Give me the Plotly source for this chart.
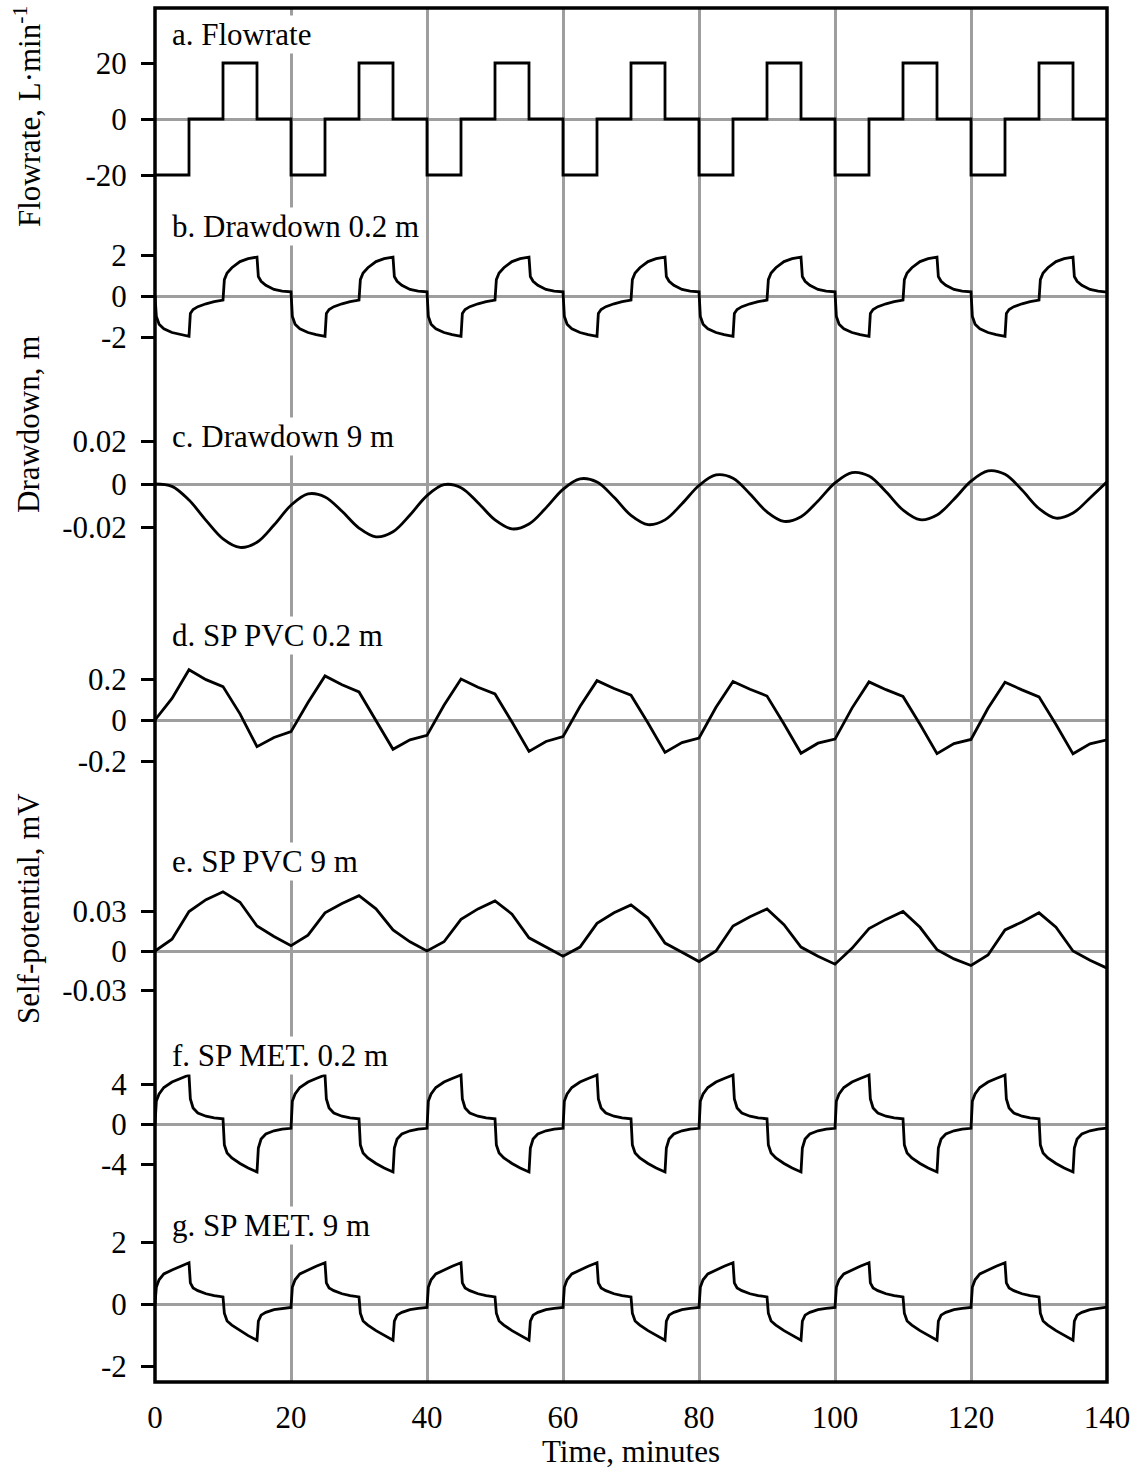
import plotly.graph_objects as go

# ---------------- data ----------------
# a. Flowrate (step function, L/min)
flow_time = [0, 5, 10, 15, 20, 25, 30, 35, 40, 45, 50, 55, 60, 65, 70, 75, 80,
             85, 90, 95, 100, 105, 110, 115, 120, 125, 130, 135, 140]
flowrate = [-20, 0, 20, 0, -20, 0, 20, 0, -20, 0, 20, 0, -20, 0, 20, 0, -20,
            0, 20, 0, -20, 0, 20, 0, -20, 0, 20, 0, 0]

# sampling offsets inside one 20-min cycle for the step-response records
cycle_offsets = [0, 0.2, 0.6, 1.3, 2.5, 3.7,
                 5, 5.2, 5.6, 6.3, 7.5, 8.7,
                 10, 10.2, 10.6, 11.3, 12.5, 13.7,
                 15, 15.2, 15.6, 16.3, 17.5, 18.7]
step_time = [20 * c + o for c in range(7) for o in cycle_offsets] + [140]

# b. Drawdown 0.2 m (m)
drawdown_02 = [
    0.00, -1.00, -1.38, -1.60, -1.78, -1.88, -1.97, -0.85, -0.66, -0.52, -0.38, -0.28,
    -0.20, 0.80, 1.12, 1.38, 1.68, 1.82, 1.90, 0.95, 0.72, 0.52, 0.32, 0.24,
    0.20, -1.00, -1.38, -1.60, -1.78, -1.88, -1.97, -0.85, -0.66, -0.52, -0.38, -0.28,
    -0.20, 0.80, 1.12, 1.38, 1.68, 1.82, 1.90, 0.95, 0.72, 0.52, 0.32, 0.24,
    0.20, -1.00, -1.38, -1.60, -1.78, -1.88, -1.97, -0.85, -0.66, -0.52, -0.38, -0.28,
    -0.20, 0.80, 1.12, 1.38, 1.68, 1.82, 1.90, 0.95, 0.72, 0.52, 0.32, 0.24,
    0.20, -1.00, -1.38, -1.60, -1.78, -1.88, -1.97, -0.85, -0.66, -0.52, -0.38, -0.28,
    -0.20, 0.80, 1.12, 1.38, 1.68, 1.82, 1.90, 0.95, 0.72, 0.52, 0.32, 0.24,
    0.20, -1.00, -1.38, -1.60, -1.78, -1.88, -1.97, -0.85, -0.66, -0.52, -0.38, -0.28,
    -0.20, 0.80, 1.12, 1.38, 1.68, 1.82, 1.90, 0.95, 0.72, 0.52, 0.32, 0.24,
    0.20, -1.00, -1.38, -1.60, -1.78, -1.88, -1.97, -0.85, -0.66, -0.52, -0.38, -0.28,
    -0.20, 0.80, 1.12, 1.38, 1.68, 1.82, 1.90, 0.95, 0.72, 0.52, 0.32, 0.24,
    0.20, -1.00, -1.38, -1.60, -1.78, -1.88, -1.97, -0.85, -0.66, -0.52, -0.38, -0.28,
    -0.20, 0.80, 1.12, 1.38, 1.68, 1.82, 1.90, 0.95, 0.72, 0.52, 0.32, 0.24,
    0.19,
]

# c. Drawdown 9 m (m), every 2.5 min
grid_time = [2.5 * i for i in range(57)]
drawdown_9 = [
    0.0, -0.0011, -0.0075, -0.0169, -0.0255, -0.0295, -0.0271, -0.0191,
    -0.0099, -0.0046, -0.0060, -0.0127, -0.0205, -0.0246, -0.0222, -0.0144,
    -0.0054, -0.0003, -0.0017, -0.0087, -0.0167, -0.0209, -0.0186, -0.0111,
    -0.0025, 0.0024, 0.0009, -0.0062, -0.0146, -0.0189, -0.0167, -0.0092,
    -0.0007, 0.0042, 0.0027, -0.0046, -0.0130, -0.0174, -0.0152, -0.0079,
    0.0005, 0.0053, 0.0037, -0.0036, -0.0121, -0.0166, -0.0144, -0.0071,
    0.0013, 0.0061, 0.0045, -0.0028, -0.0114, -0.0159, -0.0135, -0.0065,
    0.0010,
]

# d. SP PVC 0.2 m (mV), every 2.5 min
sp_pvc_02 = [
    0.000, 0.105, 0.245, 0.197, 0.163, 0.030, -0.130, -0.085,
    -0.057, 0.085, 0.215, 0.172, 0.137, 0.000, -0.143, -0.097,
    -0.075, 0.072, 0.200, 0.160, 0.127, -0.010, -0.153, -0.105,
    -0.081, 0.066, 0.192, 0.154, 0.121, -0.015, -0.158, -0.110,
    -0.088, 0.062, 0.188, 0.150, 0.117, -0.019, -0.162, -0.113,
    -0.093, 0.058, 0.186, 0.148, 0.115, -0.021, -0.164, -0.115,
    -0.095, 0.057, 0.184, 0.147, 0.113, -0.022, -0.165, -0.116,
    -0.097,
]

# e. SP PVC 9 m (mV), every 2.5 min
sp_pvc_9 = [
    0.000, 0.009, 0.030, 0.039, 0.045, 0.037, 0.019, 0.011,
    0.004, 0.012, 0.029, 0.036, 0.042, 0.032, 0.016, 0.007,
    0.000, 0.007, 0.024, 0.032, 0.038, 0.028, 0.010, 0.003,
    -0.004, 0.003, 0.021, 0.029, 0.035, 0.025, 0.006, -0.001,
    -0.008, 0.000, 0.019, 0.026, 0.032, 0.020, 0.003, -0.004,
    -0.010, 0.002, 0.017, 0.024, 0.030, 0.018, 0.001, -0.006,
    -0.011, -0.003, 0.016, 0.022, 0.029, 0.018, 0.000, -0.007,
    -0.013,
]

# f. SP MET. 0.2 m (mV)
sp_met_02 = [
    0.00, 2.30, 3.00, 3.65, 4.20, 4.55, 4.90, 2.50, 1.60, 1.10, 0.78, 0.62,
    0.52, -2.10, -2.90, -3.40, -3.95, -4.40, -4.80, -2.40, -1.50, -1.00, -0.68, -0.52,
    -0.43, 2.30, 3.00, 3.65, 4.20, 4.55, 4.90, 2.50, 1.60, 1.10, 0.78, 0.62,
    0.52, -2.10, -2.90, -3.40, -3.95, -4.40, -4.80, -2.40, -1.50, -1.00, -0.68, -0.52,
    -0.43, 2.30, 3.00, 3.65, 4.20, 4.55, 4.90, 2.50, 1.60, 1.10, 0.78, 0.62,
    0.52, -2.10, -2.90, -3.40, -3.95, -4.40, -4.80, -2.40, -1.50, -1.00, -0.68, -0.52,
    -0.43, 2.30, 3.00, 3.65, 4.20, 4.55, 4.90, 2.50, 1.60, 1.10, 0.78, 0.62,
    0.52, -2.10, -2.90, -3.40, -3.95, -4.40, -4.80, -2.40, -1.50, -1.00, -0.68, -0.52,
    -0.43, 2.30, 3.00, 3.65, 4.20, 4.55, 4.90, 2.50, 1.60, 1.10, 0.78, 0.62,
    0.52, -2.10, -2.90, -3.40, -3.95, -4.40, -4.80, -2.40, -1.50, -1.00, -0.68, -0.52,
    -0.43, 2.30, 3.00, 3.65, 4.20, 4.55, 4.90, 2.50, 1.60, 1.10, 0.78, 0.62,
    0.52, -2.10, -2.90, -3.40, -3.95, -4.40, -4.80, -2.40, -1.50, -1.00, -0.68, -0.52,
    -0.43, 2.30, 3.00, 3.65, 4.20, 4.55, 4.90, 2.50, 1.60, 1.10, 0.78, 0.62,
    0.52, -2.10, -2.90, -3.40, -3.95, -4.40, -4.80, -2.40, -1.50, -1.00, -0.68, -0.52,
    -0.42,
]

# g. SP MET. 9 m (mV)
sp_met_9 = [
    0.00, 0.55, 0.78, 0.97, 1.10, 1.22, 1.33, 0.68, 0.52, 0.43, 0.33, 0.27,
    0.23, -0.30, -0.55, -0.68, -0.86, -1.02, -1.17, -0.55, -0.36, -0.27, -0.18, -0.14,
    -0.11, 0.55, 0.78, 0.97, 1.10, 1.22, 1.33, 0.68, 0.52, 0.43, 0.33, 0.27,
    0.23, -0.30, -0.55, -0.68, -0.86, -1.02, -1.17, -0.55, -0.36, -0.27, -0.18, -0.14,
    -0.11, 0.55, 0.78, 0.97, 1.10, 1.22, 1.33, 0.68, 0.52, 0.43, 0.33, 0.27,
    0.23, -0.30, -0.55, -0.68, -0.86, -1.02, -1.17, -0.55, -0.36, -0.27, -0.18, -0.14,
    -0.11, 0.55, 0.78, 0.97, 1.10, 1.22, 1.33, 0.68, 0.52, 0.43, 0.33, 0.27,
    0.23, -0.30, -0.55, -0.68, -0.86, -1.02, -1.17, -0.55, -0.36, -0.27, -0.18, -0.14,
    -0.11, 0.55, 0.78, 0.97, 1.10, 1.22, 1.33, 0.68, 0.52, 0.43, 0.33, 0.27,
    0.23, -0.30, -0.55, -0.68, -0.86, -1.02, -1.17, -0.55, -0.36, -0.27, -0.18, -0.14,
    -0.11, 0.55, 0.78, 0.97, 1.10, 1.22, 1.33, 0.68, 0.52, 0.43, 0.33, 0.27,
    0.23, -0.30, -0.55, -0.68, -0.86, -1.02, -1.17, -0.55, -0.36, -0.27, -0.18, -0.14,
    -0.11, 0.55, 0.78, 0.97, 1.10, 1.22, 1.33, 0.68, 0.52, 0.43, 0.33, 0.27,
    0.23, -0.30, -0.55, -0.68, -0.86, -1.02, -1.17, -0.55, -0.36, -0.27, -0.18, -0.14,
    -0.10,
]

panel_labels = ["a. Flowrate", "b. Drawdown 0.2 m", "c. Drawdown 9 m",
                "d. SP PVC 0.2 m", "e. SP PVC 9 m", "f. SP MET. 0.2 m",
                "g. SP MET. 9 m"]
y_tickvals = [[-20, 0, 20], [-2, 0, 2], [-0.02, 0, 0.02], [-0.2, 0, 0.2],
              [-0.03, 0, 0.03], [-4, 0, 4], [-2, 0, 2]]
y_ticktext = [["-20", "0", "20"], ["-2", "0", "2"], ["-0.02", "0", "0.02"],
              ["-0.2", "0", "0.2"], ["-0.03", "0", "0.03"], ["-4", "0", "4"],
              ["-2", "0", "2"]]
x_ticks = [0, 20, 40, 60, 80, 100, 120, 140]

# ---------------- layout geometry (pixels) ----------------
W, H = 1142, 1472
ML, MR, MT, MB = 155, 35, 8, 90
PW = W - ML - MR
PH = H - MT - MB
BOTTOM = H - MB

# (top px, bottom px, zero px, px per unit)
geom = [
    (8, 205, 119, 2.8),
    (205, 400, 296, 20.5),
    (400, 595, 484, 2150.0),
    (595, 825, 720, 205.0),
    (825, 1035, 951, 1317.0),
    (1035, 1190, 1124, 10.0),
    (1190, 1382, 1304, 31.0),
]
label_y_px = [35, 227, 436, 635, 862, 1055, 1225]


def py(ypx):
    return (BOTTOM - ypx) / PH


def px(xpx):
    return (xpx - ML) / PW


FONT = "Liberation Serif"
FS = 31
GRID = "#9e9e9e"

series = [
    (flow_time, flowrate, "hv"),
    (step_time, drawdown_02, "linear"),
    (grid_time, drawdown_9, "spline"),
    (grid_time, sp_pvc_02, "linear"),
    (grid_time, sp_pvc_9, "linear"),
    (step_time, sp_met_02, "linear"),
    (step_time, sp_met_9, "linear"),
]

fig = go.Figure()
layout = dict(
    width=W, height=H,
    margin=dict(l=ML, r=MR, t=MT, b=MB, pad=0),
    paper_bgcolor="white", plot_bgcolor="white",
    showlegend=False,
    font=dict(family=FONT, size=FS, color="black"),
)

annotations = []
for i, ((xs, ys, shape), (top, bot, zero, unit)) in enumerate(zip(series, geom)):
    n = i + 1
    line = dict(color="black", width=2.8, shape=shape)
    if shape == "spline":
        line["smoothing"] = 1.0
    fig.add_trace(go.Scatter(x=xs, y=ys, mode="lines", line=line,
                             xaxis=f"x{n}", yaxis=f"y{n}", hoverinfo="skip"))
    xa = dict(domain=[0, 1], anchor=f"y{n}", range=[0, 140],
              tickvals=x_ticks, showgrid=True, gridcolor=GRID, gridwidth=2.5,
              zeroline=False, showline=False, ticks="",
              showticklabels=(n == 7))
    if n > 1:
        xa["matches"] = "x"
    if n == 7:
        xa["tickfont"] = dict(family=FONT, size=FS, color="black")
        xa["ticktext"] = [str(v) for v in x_ticks]
        xa["ticklabelstandoff"] = 14
    ya = dict(domain=[py(bot), py(top)], anchor=f"x{n}",
              range=[(zero - bot) / unit, (zero - top) / unit],
              tickvals=y_tickvals[i], ticktext=y_ticktext[i],
              ticks="outside", ticklen=13, tickwidth=2.5, tickcolor="black",
              showgrid=False, zeroline=True, zerolinecolor=GRID, zerolinewidth=2.5,
              showline=False, ticklabelstandoff=8,
              tickfont=dict(family=FONT, size=FS, color="black"))
    layout["xaxis" if n == 1 else f"xaxis{n}"] = xa
    layout["yaxis" if n == 1 else f"yaxis{n}"] = ya
    annotations.append(dict(
        text=panel_labels[i], xref="paper", yref="paper",
        x=px(170), y=py(label_y_px[i]), xanchor="left", yanchor="middle",
        showarrow=False, bgcolor="white", borderpad=1,
        font=dict(family=FONT, size=FS, color="black")))

# axis titles
for text, ycen in [("Flowrate, L·min<sup>-1</sup>", 117),
                   ("Drawdown, m", 425),
                   ("Self-potential, mV", 909)]:
    annotations.append(dict(
        text=text, xref="paper", yref="paper", x=px(28), y=py(ycen),
        xanchor="center", yanchor="middle", textangle=-90, showarrow=False,
        font=dict(family=FONT, size=FS, color="black")))
annotations.append(dict(
    text="Time, minutes", xref="paper", yref="paper", x=0.5, y=py(1451),
    xanchor="center", yanchor="middle", showarrow=False,
    font=dict(family=FONT, size=FS, color="black")))

layout["annotations"] = annotations
layout["shapes"] = [dict(type="rect", xref="paper", yref="paper",
                         x0=0, x1=1, y0=0, y1=1,
                         line=dict(color="black", width=3.5), layer="above")]
fig.update_layout(**layout)
fig.write_html("out.html")
